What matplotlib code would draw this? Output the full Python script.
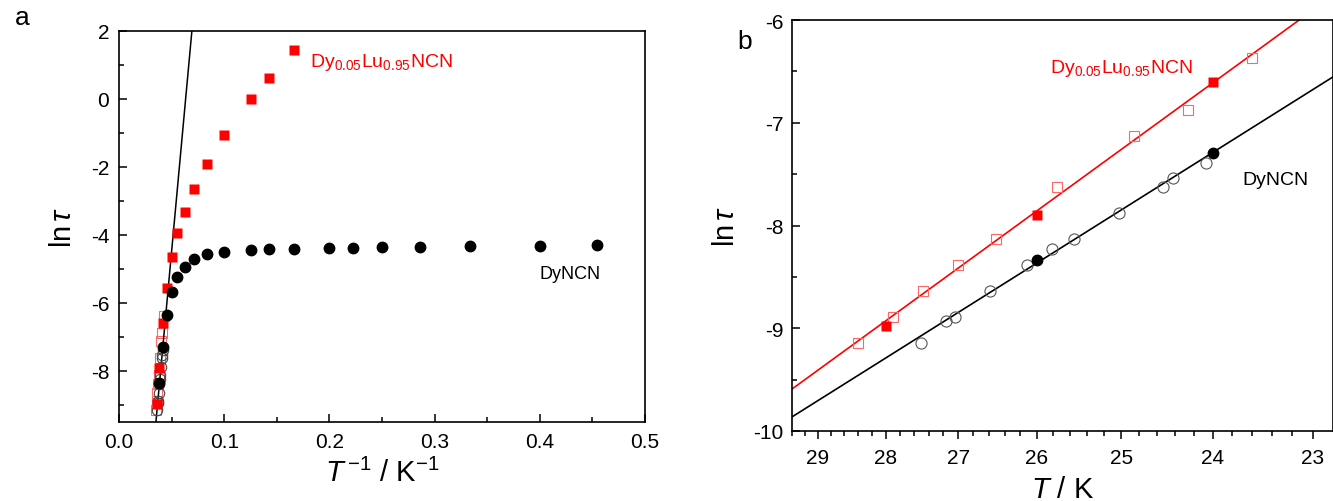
import numpy as np
import matplotlib
matplotlib.use('Agg')
from matplotlib import pyplot as plt
from matplotlib.ticker import FixedLocator, MultipleLocator

plt.rcParams['font.family'] = ['Liberation Sans', 'DejaVu Sans']
plt.rcParams['mathtext.fontset'] = 'custom'
plt.rcParams['mathtext.rm'] = 'Liberation Sans'
plt.rcParams['mathtext.it'] = 'Liberation Sans:italic'
plt.rcParams['axes.unicode_minus'] = False

# DyNCN, filled circles (T in K, ln tau)
dy_T = [2.2, 2.5, 3, 3.5, 4, 4.5, 5, 6, 7, 8, 10, 12, 14, 16, 18, 20, 22, 24, 26]
dy_ln = [-4.30, -4.32, -4.33, -4.35, -4.36, -4.37, -4.38, -4.40, -4.42, -4.44,
         -4.50, -4.57, -4.70, -4.93, -5.23, -5.68, -6.35, -7.29, -8.34]
# DyNCN, open circles
dy_T_open = [27.51, 27.17, 27.05, 26.59, 26.12, 25.81, 25.55, 25.03, 24.53, 24.43, 24.07]
dy_ln_open = [-9.14, -8.93, -8.89, -8.64, -8.38, -8.23, -8.13, -7.88, -7.63, -7.54, -7.39]

# Dy0.05Lu0.95NCN, filled squares
lu_T = [6, 7, 8, 10, 12, 14, 16, 18, 20, 22, 24, 26, 28]
lu_ln = [1.45, 0.62, 0.0, -1.07, -1.90, -2.65, -3.33, -3.95, -4.65, -5.55, -6.60, -7.90, -8.98]
# Dy0.05Lu0.95NCN, open squares
lu_T_open = [28.40, 27.90, 27.48, 27.00, 26.51, 25.75, 24.86, 24.26, 23.60]
lu_ln_open = [-9.14, -8.89, -8.64, -8.38, -8.13, -7.63, -7.13, -6.88, -6.37]

# Arrhenius fits: ln tau = a + b / T
dy_fit = (-21.305, 336.4)
lu_fit = (-22.84, 389.5)

b_ticks = [29, 28, 27, 26, 25, 24, 23]

inv = lambda t: 1.0 / np.asarray(t, dtype=float)

fig = plt.figure(figsize=(13.33, 5.02), dpi=100)
ax1 = fig.add_axes([119/1333, 1-423/502, 526/1333, (423-32)/502])
ax2 = fig.add_axes([792/1333, 1-432/502, 541/1333, (432-21)/502])

red = '#ff0000'
for ax in (ax1, ax2):
    for s in ax.spines.values():
        s.set_linewidth(1.2)

# ---- panel a
xa = np.linspace(0.03, 0.08, 50)
ax1.plot(xa, dy_fit[0] + dy_fit[1]*xa, color='k', lw=1.1, zorder=2)
ax1.plot(inv(lu_T_open), lu_ln_open, 's', ms=6.5, mfc='none', mec='#ff6666', mew=0.8, zorder=1)
ax1.plot(inv(dy_T_open), dy_ln_open, 'o', ms=7.5, mfc='none', mec='#444444', mew=0.8, zorder=3)
ax1.plot(inv(lu_T), lu_ln, 's', ms=6.5, color=red, mec='none', zorder=3)
ax1.plot(inv(dy_T), dy_ln, 'o', ms=7.5, color='k', zorder=4)
ax1.set_xlim(0, 0.5)
ax1.set_ylim(-9.5, 2)
ax1.xaxis.set_major_locator(MultipleLocator(0.1))
ax1.xaxis.set_minor_locator(MultipleLocator(0.05))
ax1.yaxis.set_major_locator(MultipleLocator(2))
ax1.yaxis.set_minor_locator(MultipleLocator(1))
ax1.xaxis.set_major_formatter(plt.FormatStrFormatter('%.1f'))
ax1.tick_params(which='both', direction='in', labelsize=15, width=1.1)
ax1.tick_params(which='major', length=6, pad=7)
ax1.tick_params(which='minor', length=3.5)
ax1.set_xlabel(r'$T^{\,\mathregular{-1}}$ / K$^{\mathregular{-1}}$', fontsize=21, labelpad=5)
ax1.set_ylabel(r'ln$\,\tau$', fontsize=21, labelpad=10)
ax1.text(0.182, 1.1, r'Dy$_{0.05}$Lu$_{0.95}$NCN', color=red, fontsize=14, va='center')
ax1.text(0.400, -5.13, 'DyNCN', color='k', fontsize=13, va='center')

# ---- panel b
xb = np.linspace(1/29.6, 1/22.5, 50)
ax2.plot(xb, lu_fit[0] + lu_fit[1]*xb, color=red, lw=1.2, zorder=2)
ax2.plot(xb, dy_fit[0] + dy_fit[1]*xb, color='k', lw=1.2, zorder=2)
ax2.plot(inv(lu_T_open), lu_ln_open, 's', ms=7, mfc='none', mec='#ff6666', mew=0.8, zorder=3)
ax2.plot(inv(dy_T_open), dy_ln_open, 'o', ms=8, mfc='none', mec='#555555', mew=0.8, zorder=3)
ax2.plot(inv([t for t in lu_T if t >= 24]), [v for t, v in zip(lu_T, lu_ln) if t >= 24],
         's', ms=7, color=red, mec='none', zorder=4)
ax2.plot(inv([t for t in dy_T if t >= 24]), [v for t, v in zip(dy_T, dy_ln) if t >= 24],
         'o', ms=7.5, color='k', zorder=4)
ax2.set_xlim(1/29.40, 1/22.805)
ax2.set_ylim(-10, -6)
ax2.xaxis.set_major_locator(FixedLocator(inv(b_ticks)))
ax2.set_xticklabels([str(t) for t in b_ticks])
minor_T = [t for t in np.arange(22.8, 29.41, 0.2) if abs(t - round(t)) > 0.05]
ax2.xaxis.set_minor_locator(FixedLocator(inv(minor_T)))
ax2.yaxis.set_major_locator(MultipleLocator(1))
ax2.yaxis.set_minor_locator(MultipleLocator(0.5))
ax2.tick_params(axis='y', which='both', direction='in')
ax2.tick_params(axis='x', which='both', direction='out')
ax2.tick_params(which='both', labelsize=15, width=1.1)
ax2.tick_params(which='major', length=6, pad=6)
ax2.tick_params(which='minor', length=3.5)
ax2.set_xlabel(r'$T$ / K', fontsize=21, labelpad=6)
ax2.set_ylabel(r'ln$\,\tau$', fontsize=21, labelpad=10)
ax2.text(0.038705, -6.46, r'Dy$_{0.05}$Lu$_{0.95}$NCN', color=red, fontsize=14, va='center')
ax2.text(0.042196, -7.55, 'DyNCN', color='k', fontsize=14, va='center')

fig.text(15/1333, 1-18/502, 'a', fontsize=19, va='center')
fig.text(737/1333, 1-42/502, 'b', fontsize=19, va='center')

fig.savefig('out.png', dpi=100)
